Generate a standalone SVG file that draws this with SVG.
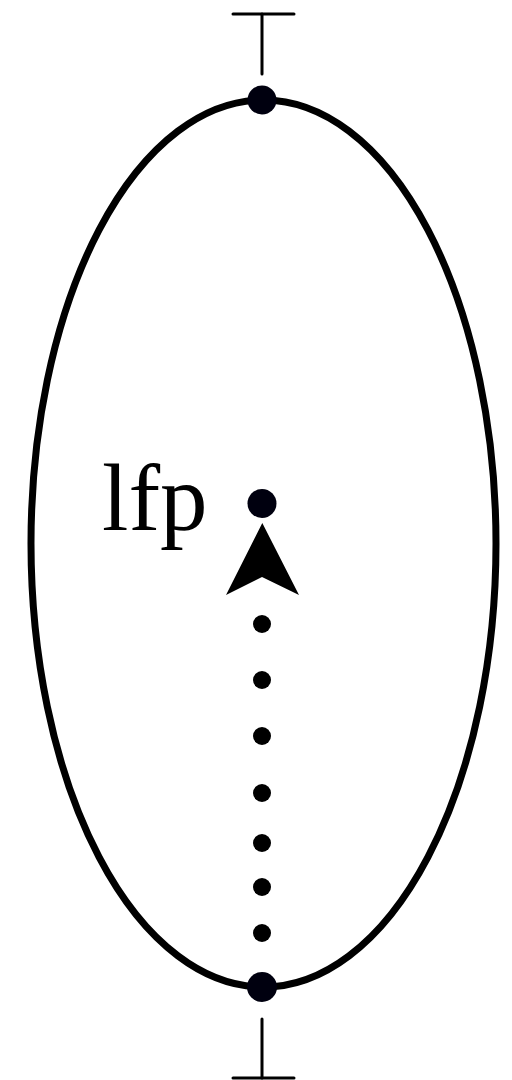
<svg xmlns="http://www.w3.org/2000/svg" width="512" height="1080" viewBox="0 0 512 1080">
  <style>
    .thin { stroke: #000; stroke-width: 3; fill: none; stroke-linecap: round; }
    .node { fill: #00000f; }
    .dot { fill: #000; }
    .label { font-family: "Liberation Serif", "Times New Roman", serif; font-size: 95px; fill: #000; }
  </style>
  <rect width="512" height="1080" fill="#fff"/>
  <g id="ellipse">
    <ellipse cx="263.5" cy="543.5" rx="232.5" ry="443.5" fill="none" stroke="#000" stroke-width="7"/>
  </g>
  <g id="top-terminal">
    <line class="thin" x1="233" y1="14" x2="294" y2="14"/>
    <line class="thin" x1="262" y1="14" x2="262" y2="74"/>
  </g>
  <g id="bottom-terminal">
    <line class="thin" x1="262" y1="1019" x2="262" y2="1078"/>
    <line class="thin" x1="233" y1="1078" x2="294" y2="1078"/>
  </g>
  <g id="top-node"><circle class="node" cx="262" cy="100" r="14.5"/></g>
  <g id="bottom-node"><circle class="node" cx="262" cy="987" r="15"/></g>
  <g id="lfp-node">
    <circle class="node" cx="262" cy="503.5" r="14.5"/>
    <text class="label" x="102" y="530">lfp</text>
  </g>
  <g id="connectors">
    <circle class="dot" cx="262" cy="624" r="9"/>
    <circle class="dot" cx="262" cy="680" r="9"/>
    <circle class="dot" cx="262" cy="736" r="9"/>
    <circle class="dot" cx="262" cy="793" r="9"/>
    <circle class="dot" cx="262" cy="843" r="9"/>
    <circle class="dot" cx="262" cy="887" r="9"/>
    <circle class="dot" cx="262" cy="933" r="9"/>
    <polygon fill="#000" points="262.3,523 299,595 262,577 226,595"/>
  </g>
</svg>
